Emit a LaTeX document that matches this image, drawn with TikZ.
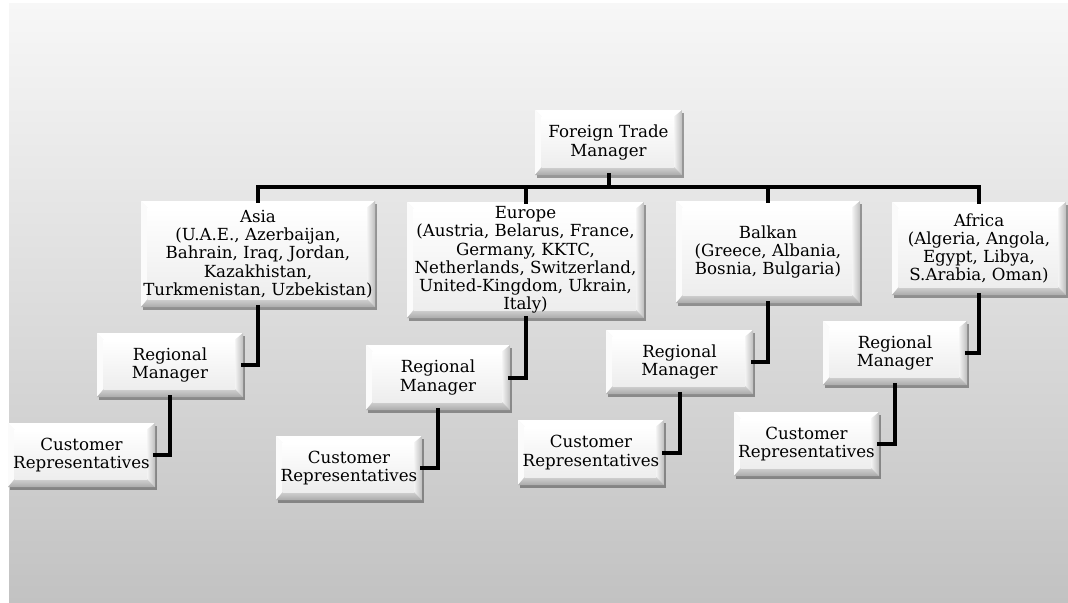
\documentclass[tikz,border=0pt]{standalone}
\usepackage{fontspec}
\setmainfont{DejaVu Serif}
\usetikzlibrary{calc,shadows}
\definecolor{bgtop}{HTML}{F7F7F7}
\definecolor{bgbot}{HTML}{C2C2C2}
\definecolor{face}{HTML}{F4F4F4}
\definecolor{bevR}{HTML}{BDBDBD}
\definecolor{bevB}{HTML}{ABABAB}
\definecolor{bevL}{HTML}{FBFBFB}
\tikzset{
  bev/.style={rectangle, inner sep=0pt, align=center,
    font=\fontsize{12.5}{13.7}\selectfont,
    fill=face,
    drop shadow={shadow xshift=1.2pt, shadow yshift=-2pt, opacity=0.35, fill=black},
    path picture={
      \coordinate (pNW) at (path picture bounding box.north west);
      \coordinate (pNE) at (path picture bounding box.north east);
      \coordinate (pSW) at (path picture bounding box.south west);
      \coordinate (pSE) at (path picture bounding box.south east);
      \coordinate (iNW) at ($(pNW)+(5pt,-5pt)$);
      \coordinate (iNE) at ($(pNE)+(-6pt,-5pt)$);
      \coordinate (iSW) at ($(pSW)+(5pt,6pt)$);
      \coordinate (iSE) at ($(pSE)+(-6pt,6pt)$);
      \fill[white] (pNW) -- (pNE) -- (iNE) -- (iNW) -- cycle;
      \fill[bevL] (pNW) -- (iNW) -- (iSW) -- (pSW) -- cycle;
      \shade[left color=face, right color=bevR] (pNE) -- (iNE) -- (iSE) -- (pSE) -- cycle;
      \shade[top color=bevR!70!white, bottom color=bevB] (pSW) -- (iSW) -- (iSE) -- (pSE) -- cycle;
      \shade[top color=white, bottom color=black!7] (iNW) rectangle (iSE);
    }},
  conn/.style={line width=3pt, black, line cap=rect, line join=miter}
}
\newcommand\bx[6]{\node[bev, minimum width=#4*0.75pt, minimum height=#5*0.75pt] (#1) at (#2,#3) {#6};}
\begin{document}
\begin{tikzpicture}[x=0.75pt, y=-0.75pt]
\useasboundingbox (0,0) rectangle (1068,603);
\fill[white] (0,0) rectangle (1068,603);
\shade[top color=bgtop, bottom color=bgbot] (9,3) rectangle (1068,603);

\bx{ftm}{608.5}{142.5}{147}{65}{Foreign Trade\\Manager}
\bx{asia}{258}{254}{234}{106}{Asia\\(U.A.E., Azerbaijan,\\Bahrain, Iraq, Jordan,\\Kazakhistan,\\Turkmenistan, Uzbekistan)}
\bx{europe}{525.5}{260}{237}{116}{Europe\\(Austria, Belarus, France,\\Germany, KKTC,\\Netherlands, Switzerland,\\United-Kingdom, Ukrain,\\Italy)}
\bx{balkan}{768}{252}{184}{102}{Balkan\\(Greece, Albania,\\Bosnia, Bulgaria)}
\bx{africa}{979}{248.5}{174}{93}{Africa\\(Algeria, Angola,\\Egypt, Libya,\\S.Arabia, Oman)}

\bx{asiarm}{170}{365}{146}{64}{Regional\\Manager}
\bx{eurm}{438}{377.5}{144}{65}{Regional\\Manager}
\bx{balrm}{679.5}{362}{147}{64}{Regional\\Manager}
\bx{afrrm}{895}{353}{144}{64}{Regional\\Manager}

\bx{asiacr}{81.5}{455}{147}{64}{Customer\\Representatives}
\bx{eucr}{349}{468}{146}{64}{Customer\\Representatives}
\bx{balcr}{591}{452.5}{146}{65}{Customer\\Representatives}
\bx{afrcr}{806.5}{444}{145}{64}{Customer\\Representatives}

\coordinate (bar) at (608.5,187);
\draw[conn] (asia.north) -- (asia.north |- bar) -- (africa.north |- bar) -- (africa.north);
\draw[conn] (ftm.south) -- (ftm.south |- bar);
\draw[conn] (europe.north) -- (europe.north |- bar);
\draw[conn] (balkan.north) -- (balkan.north |- bar);

\draw[conn] (asia.south) |- (asiarm.east);
\draw[conn] (europe.south) |- (eurm.east);
\draw[conn] (balkan.south) |- (balrm.east);
\draw[conn] (africa.south) |- (afrrm.east);

\draw[conn] (asiarm.south) |- (asiacr.east);
\draw[conn] (eurm.south) |- (eucr.east);
\draw[conn] (balrm.south) |- (balcr.east);
\draw[conn] (afrrm.south) |- (afrcr.east);
\end{tikzpicture}
\end{document}
